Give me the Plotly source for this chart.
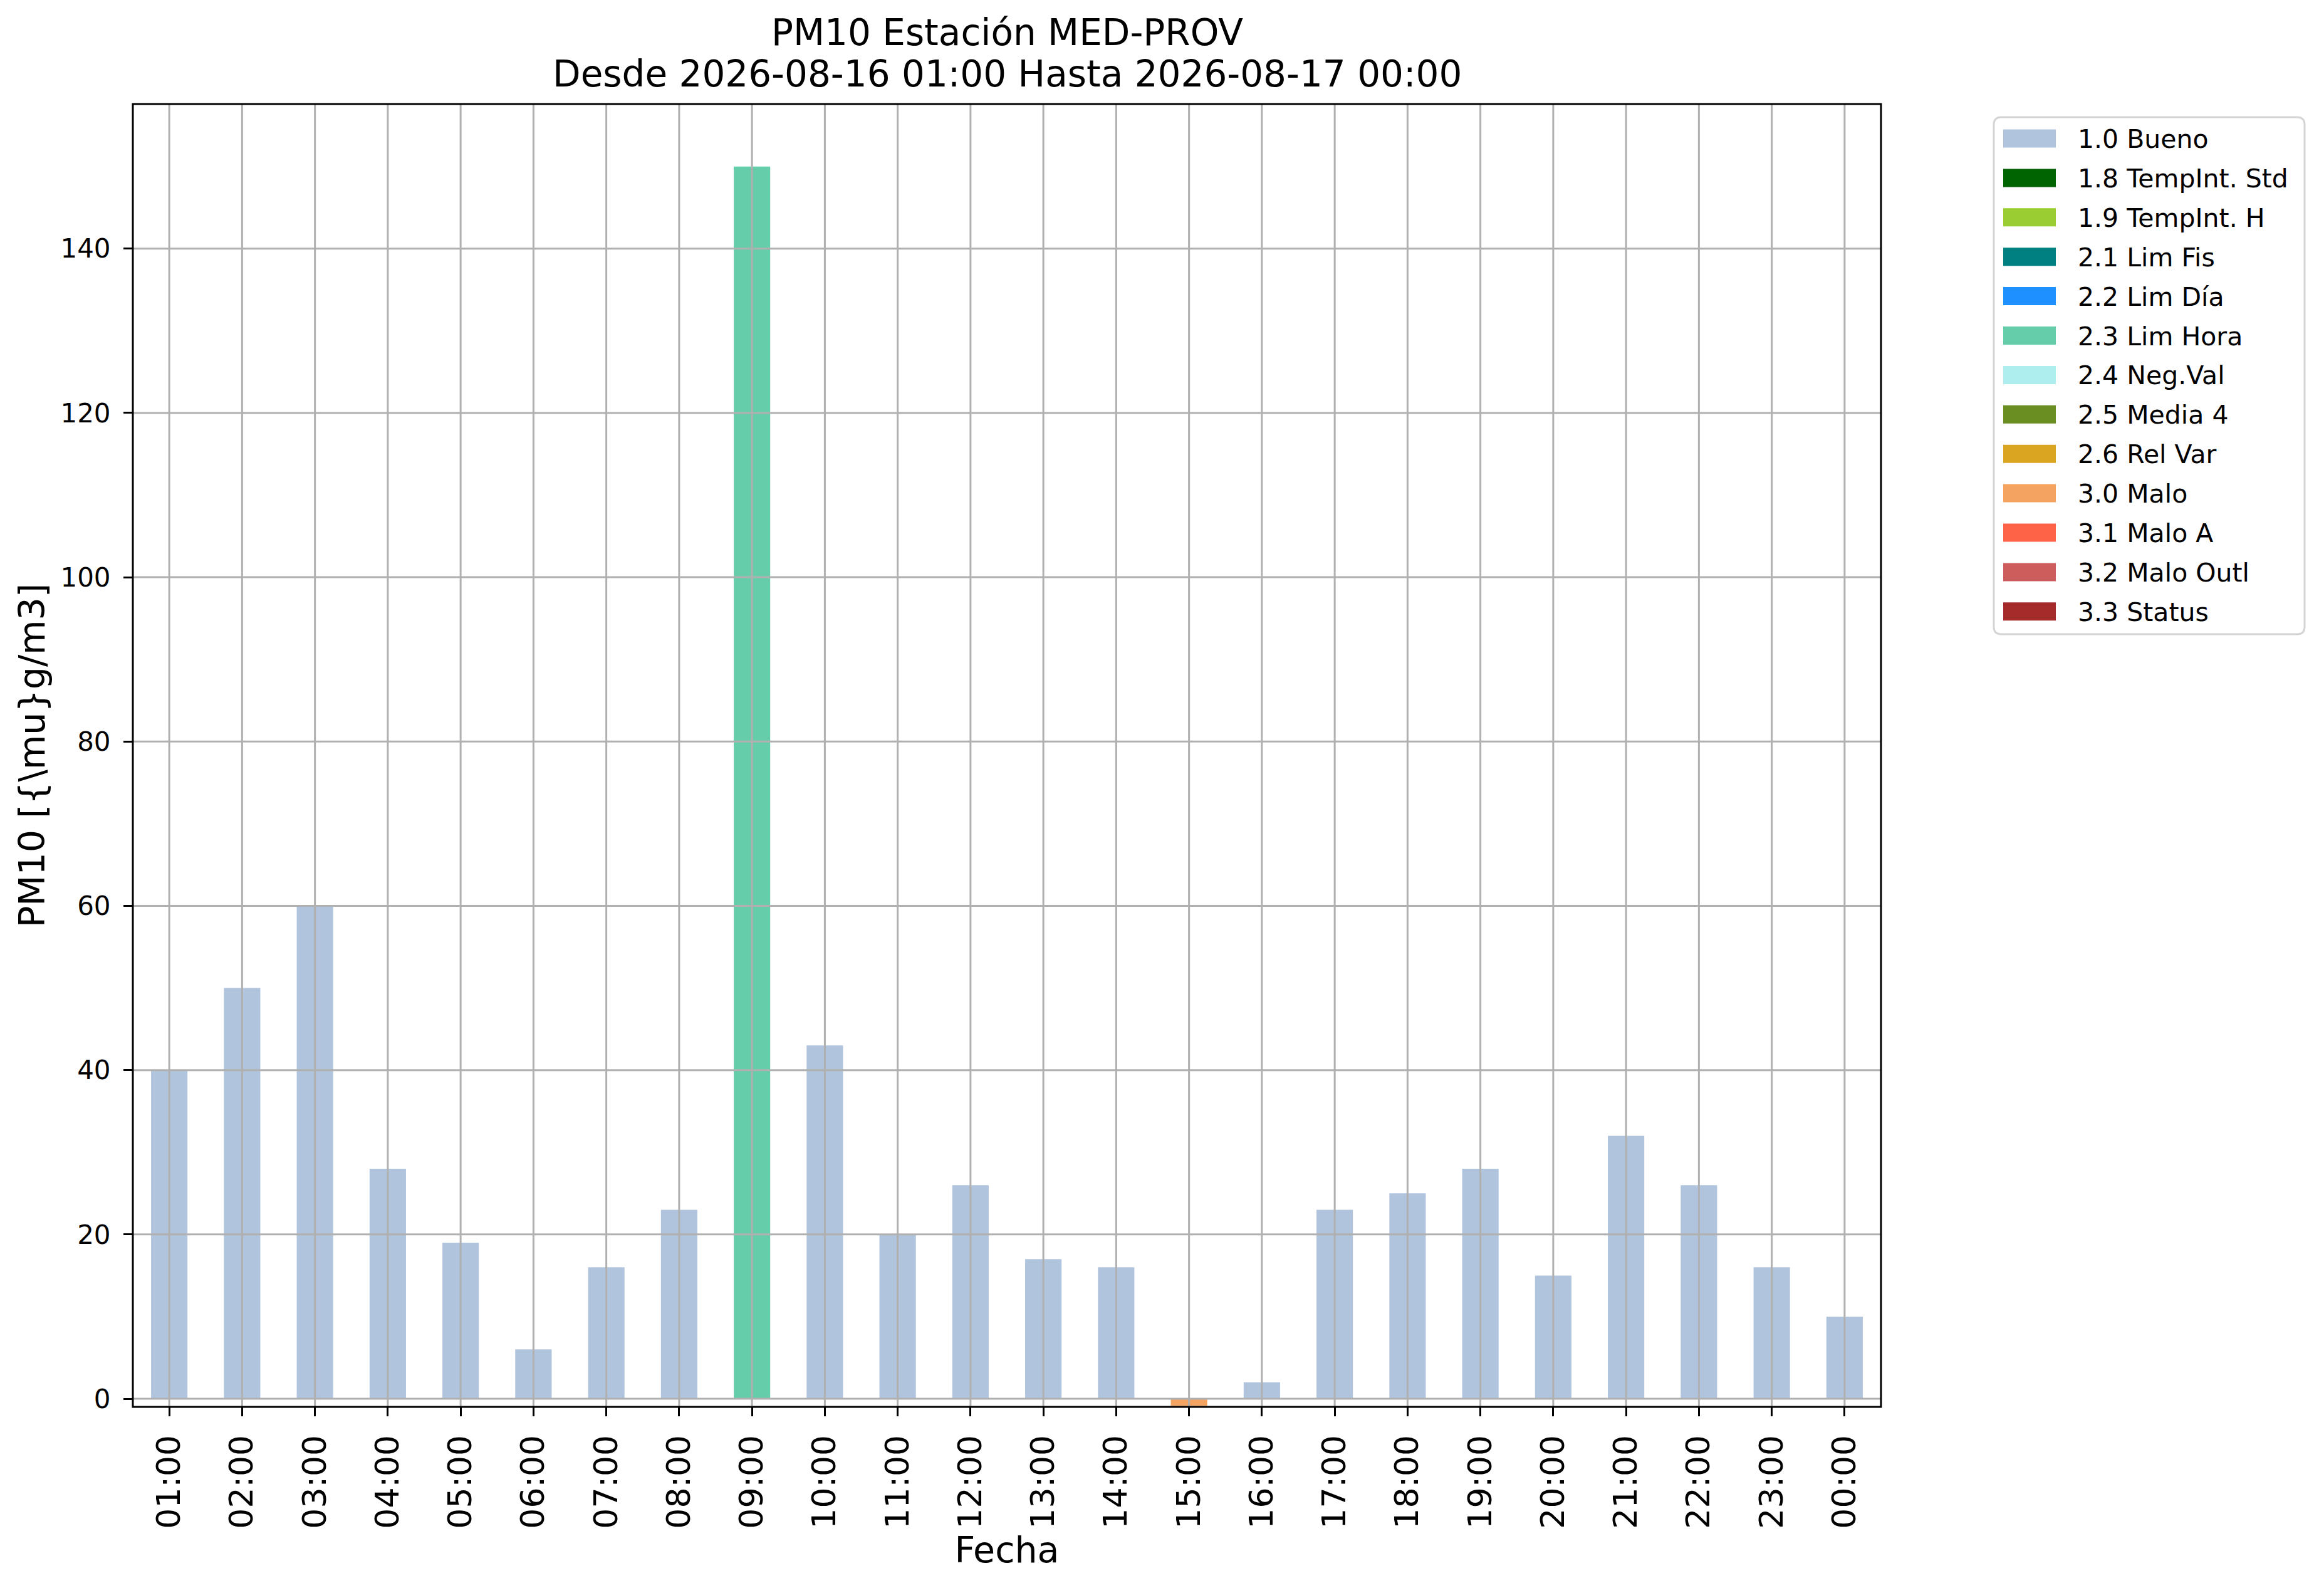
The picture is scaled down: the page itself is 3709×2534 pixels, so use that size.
"""PM10 hourly bars coloured by validation flag, station MED-PROV."""

import plotly.graph_objects as go

# ---------------------------------------------------------------------------
# data
# ---------------------------------------------------------------------------

hours = ["01:00", "02:00", "03:00", "04:00", "05:00", "06:00", "07:00",
         "08:00", "09:00", "10:00", "11:00", "12:00", "13:00", "14:00",
         "15:00", "16:00", "17:00", "18:00", "19:00", "20:00", "21:00",
         "22:00", "23:00", "00:00"]

pm10 = [40, 50, 60, 28, 19, 6, 16, 23, 150, 43, 20, 26, 17, 16,
        -0.85, 2, 23, 25, 28, 15, 32, 26, 16, 10]

flags = ["1.0 Bueno"] * 24
flags[8] = "2.3 Lim Hora"
flags[14] = "3.0 Malo"

categories = ["1.0 Bueno", "1.8 TempInt. Std", "1.9 TempInt. H",
              "2.1 Lim Fis", "2.2 Lim Día", "2.3 Lim Hora", "2.4 Neg.Val",
              "2.5 Media 4", "2.6 Rel Var", "3.0 Malo", "3.1 Malo A",
              "3.2 Malo Outl", "3.3 Status"]

colors = ["#B0C4DE", "#006400", "#9ACD32", "#008080", "#1E90FF", "#66CDAA",
          "#AFEEEE", "#6B8E23", "#DAA520", "#F4A460", "#FF6347", "#CD5C5C",
          "#A52A2A"]

y_ticks = [0, 20, 40, 60, 80, 100, 120, 140]

title_lines = ["PM10 Estación MED-PROV",
               "Desde 2026-08-16 01:00 Hasta 2026-08-17 00:00"]

# ---------------------------------------------------------------------------
# layout geometry (page pixels); the html body adds an 8px margin
# ---------------------------------------------------------------------------

W, H, OFF = 3709, 2534, 8
L, R, T, B = 212, 3002, 166, 2245
FONT = "DejaVu Sans"
GRID = "#b0b0b0"


def px(x):
    return (x - L) / (R - L)


def py(y):
    return (B - y) / (B - T)


fig = go.Figure()

for cat, col in zip(categories, colors):
    ys = [v if f == cat else None for v, f in zip(pm10, flags)]
    fig.add_trace(go.Bar(
        x=hours, y=ys, name=cat,
        marker=dict(color=col, line=dict(width=0)),
        width=0.5, showlegend=False,
        hovertemplate="%{x}: %{y}<extra>" + cat + "</extra>",
    ))

# grid over the bars, like matplotlib
for h in hours:
    fig.add_shape(type="line", xref="x", yref="paper", x0=h, x1=h, y0=0, y1=1,
                  line=dict(color=GRID, width=3), layer="above")
for t in y_ticks:
    fig.add_shape(type="line", xref="paper", yref="y", x0=0, x1=1, y0=t, y1=t,
                  line=dict(color=GRID, width=3), layer="above")
fig.add_shape(type="rect", xref="paper", yref="paper", x0=0, x1=1, y0=0, y1=1,
              line=dict(color="black", width=3), layer="above")

# title, two centred lines
for txt, yc in zip(title_lines, [52, 118]):
    fig.add_annotation(xref="paper", yref="paper", x=0.5, y=py(yc),
                       text=txt, showarrow=False, xanchor="center",
                       yanchor="middle",
                       font=dict(family=FONT, size=58, color="black"))

# legend box (hand drawn so the swatches keep matplotlib proportions)
bx0, bx1, by0, by1, rad = 3182, 3678, 187, 1012, 12
path = (f"M {px(bx0 + rad)} {py(by0)} L {px(bx1 - rad)} {py(by0)} "
        f"Q {px(bx1)} {py(by0)} {px(bx1)} {py(by0 + rad)} "
        f"L {px(bx1)} {py(by1 - rad)} "
        f"Q {px(bx1)} {py(by1)} {px(bx1 - rad)} {py(by1)} "
        f"L {px(bx0 + rad)} {py(by1)} "
        f"Q {px(bx0)} {py(by1)} {px(bx0)} {py(by1 - rad)} "
        f"L {px(bx0)} {py(by0 + rad)} "
        f"Q {px(bx0)} {py(by0)} {px(bx0 + rad)} {py(by0)} Z")
fig.add_shape(type="path", xref="paper", yref="paper", path=path,
              line=dict(color="#d4d4d4", width=3), fillcolor="white")

row0, step = 221, 62.9
for i, (cat, col) in enumerate(zip(categories, colors)):
    yc = row0 + i * step
    fig.add_shape(type="rect", xref="paper", yref="paper",
                  x0=px(3197), x1=px(3281), y0=py(yc - 14.5), y1=py(yc + 14.5),
                  line=dict(width=0), fillcolor=col)
    fig.add_annotation(xref="paper", yref="paper", x=px(3314), y=py(yc + 1),
                       text=cat, showarrow=False, xanchor="left",
                       yanchor="middle",
                       font=dict(family=FONT, size=41, color="black"))

fw, fh = W - 2 * OFF, H - 2 * OFF
fig.update_layout(
    width=fw, height=fh, autosize=False,
    margin=dict(l=L - OFF, r=fw - (R - OFF), t=T - OFF, b=fh - (B - OFF),
                pad=0),
    paper_bgcolor="white", plot_bgcolor="white",
    barmode="overlay",
    font=dict(family=FONT, color="black"),
    xaxis=dict(
        type="category", categoryorder="array", categoryarray=hours,
        range=[-0.5, len(hours) - 0.5], showgrid=False, zeroline=False,
        showline=False, ticks="outside", ticklen=14, tickwidth=3,
        tickcolor="black", tickangle=-90, ticklabelstandoff=9,
        tickfont=dict(family=FONT, size=52),
        title=dict(text="Fecha", standoff=8,
                   font=dict(family=FONT, size=57)),
    ),
    yaxis=dict(
        range=[-0.99, 157.6], tickvals=y_ticks, showgrid=False,
        zeroline=False, showline=False, ticks="outside", ticklen=14,
        tickwidth=3, tickcolor="black", ticklabelstandoff=12,
        tickfont=dict(family=FONT, size=42),
        title=dict(text="PM10 [{\\mu}g/m3]", standoff=6,
                   font=dict(family=FONT, size=57)),
    ),
)

fig.write_html("out.html")
